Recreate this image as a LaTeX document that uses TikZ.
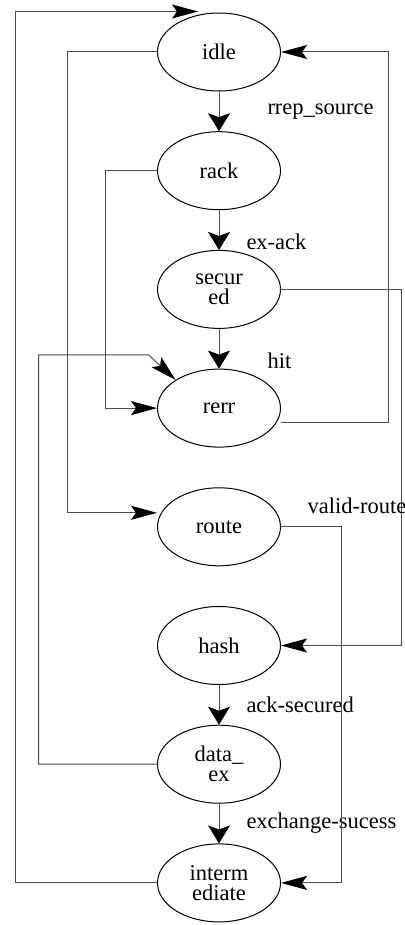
\documentclass[tikz,border=0pt]{standalone}
\usepackage{fontspec}
\setmainfont{Liberation Serif}
\usetikzlibrary{shapes,arrows.meta}

\begin{document}
\begin{tikzpicture}[x=0.5pt,y=-0.5pt,line width=0.5pt,node distance=59.35pt,
  state node/.style={ellipse,draw,minimum width=61.5pt,minimum height=39pt,
    inner sep=0pt,align=center,font=\fontsize{11.25}{10}\selectfont},
  trans text/.style={font=\fontsize{11.25}{13}\selectfont,inner sep=0pt},
  down arrow/.style={-{Stealth[length=9pt,width=11pt,inset=2pt,black]}},
  side arrow/.style={draw=black!70,-{Stealth[length=13pt,width=7pt,inset=2.5pt,black]}}]

  \useasboundingbox (0,0) rectangle (405,925);

  \node[state node] (idle) at (219,52) {idle};
  \node[state node] (rack) [below of=idle] {rack};
  \node[state node] (secured) [below of=rack] {secur\\ed};
  \node[state node] (rerr) [below of=secured] {rerr};
  \node[state node] (route) [below of=rerr] {route};
  \node[state node] (hash) [below of=route] {hash};
  \node[state node] (dataex) [below of=hash] {data\_\\ex};
  \node[state node] (inter) [below of=dataex] {interm\\ediate};

  \path[down arrow,every edge/.style={draw=black!70},every node/.style={trans text}]
    (idle) edge node[right=24pt] {rrep\_source} (rack)
    (rack) edge node[right=13.5pt,yshift=-6pt] {ex-ack} (secured)
    (secured) edge node[right=24pt,yshift=-6pt] {hit} (rerr)
    (hash) edge node[right=13.5pt] {ack-secured} (dataex)
    (dataex) edge node[right=13.5pt] {exchange-sucess} (inter)
    ;

  \draw[side arrow] (inter.west) -- ++(-142,0) |- ([xshift=-10.5pt,yshift=0.5pt]idle.north);
  \draw[side arrow] (idle.west) -- ++(-90,0) |- ([yshift=7pt]route.west);
  \draw[side arrow] (rack.west) -- ++(-52,0) |- (rerr.west);
  \draw[side arrow] (dataex.west) -- ++(-118.5,0) |- ([xshift=-13.5pt,yshift=12.5pt]rerr.147) -- (rerr.147);
  \draw[side arrow] ([yshift=-7pt]rerr.east) -- ++(107,0) |- (idle.east);
  \draw[side arrow] (secured.east) -- ++(120,0) |- (hash.east);
  \draw[side arrow] (route.east) -- ++(60,0) node[trans text,xshift=8pt,yshift=10.5pt] {valid-route} |- (inter.east);
\end{tikzpicture}
\end{document}
